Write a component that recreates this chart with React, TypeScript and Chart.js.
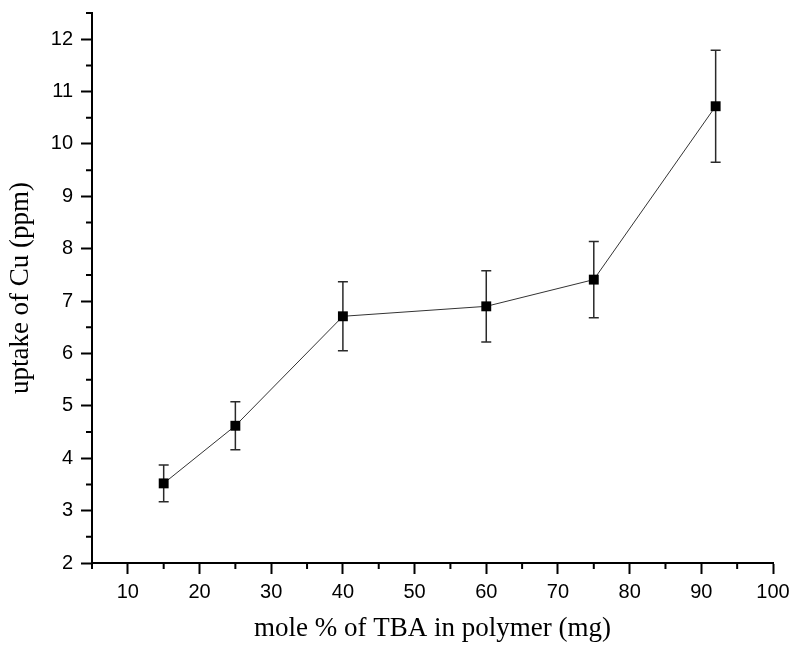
import React, { useEffect, useRef } from 'react';
import { Chart, registerables } from 'chart.js';

Chart.register(...registerables);

// Data
const tbaMolePercent = [15, 25, 40, 60, 75, 92];
const cuUptake = [3.52, 4.62, 6.71, 6.9, 7.41, 10.72];
const cuError = [0.35, 0.46, 0.66, 0.68, 0.73, 1.07];

const xMin = 5;
const xMax = 100;
const xStep = 5;
const xMajorEvery = 10;
const yMin = 2;
const yMax = 12.5;
const yStep = 0.5;

const xTitle = 'mole % of TBA in polymer (mg)';
const yTitle = 'uptake of Cu (ppm)';

const isMajorX = (v: number) => Math.abs(v % xMajorEvery) < 1e-6;
const isMajorY = (v: number) => Math.abs(v - Math.round(v)) < 1e-6;

const errorBarPlugin = {
  id: 'errorBars',
  beforeDatasetsDraw(chart: any) {
    const { ctx, scales } = chart;
    const xs = scales.x;
    const ys = scales.y;
    ctx.save();
    ctx.strokeStyle = '#2a2a2a';
    ctx.lineWidth = 1.5;
    const cap = 5;
    tbaMolePercent.forEach((xv, i) => {
      const x = xs.getPixelForValue(xv);
      const yTop = ys.getPixelForValue(cuUptake[i] + cuError[i]);
      const yBot = ys.getPixelForValue(cuUptake[i] - cuError[i]);
      ctx.beginPath();
      ctx.moveTo(x, yTop);
      ctx.lineTo(x, yBot);
      ctx.moveTo(x - cap, yTop);
      ctx.lineTo(x + cap, yTop);
      ctx.moveTo(x - cap, yBot);
      ctx.lineTo(x + cap, yBot);
      ctx.stroke();
    });
    ctx.restore();
  },
};

const minorTickPlugin = {
  id: 'minorTicks',
  afterDraw(chart: any) {
    const { ctx, scales, chartArea } = chart;
    const len = 6;
    ctx.save();
    ctx.strokeStyle = '#000';
    ctx.lineWidth = 2;
    ctx.beginPath();
    scales.x.ticks.forEach((t: any) => {
      if (isMajorX(t.value)) return;
      const x = scales.x.getPixelForValue(t.value);
      ctx.moveTo(x, chartArea.bottom);
      ctx.lineTo(x, chartArea.bottom + len);
    });
    scales.y.ticks.forEach((t: any) => {
      if (isMajorY(t.value)) return;
      const y = scales.y.getPixelForValue(t.value);
      ctx.moveTo(chartArea.left, y);
      ctx.lineTo(chartArea.left - len, y);
    });
    ctx.stroke();
    ctx.restore();
  },
};

export default function App() {
  const canvasRef = useRef<HTMLCanvasElement | null>(null);

  useEffect(() => {
    document.body.style.margin = '0';
    const canvas = canvasRef.current;
    if (!canvas) return;
    const tickFont = { family: '"Liberation Sans", Arial, sans-serif', size: 20 };
    const titleFont = { family: '"Liberation Serif", "Times New Roman", serif', size: 27 };
    const chart = new Chart(canvas, {
      type: 'line',
      data: {
        datasets: [
          {
            data: tbaMolePercent.map((x, i) => ({ x, y: cuUptake[i] })),
            borderColor: '#333',
            borderWidth: 1,
            backgroundColor: '#000',
            pointStyle: 'rect',
            pointRadius: 7,
            pointBorderWidth: 0,
            pointBackgroundColor: '#000',
            tension: 0,
            fill: false,
          },
        ],
      },
      options: {
        responsive: false,
        animation: false,
        events: [],
        layout: { padding: { top: 13, right: 20, bottom: 0, left: 0 } },
        plugins: {
          legend: { display: false },
          tooltip: { enabled: false },
        },
        scales: {
          x: {
            type: 'linear',
            min: xMin,
            max: xMax,
            afterFit: (s: any) => {
              s.height = 85;
              s.paddingLeft = 0;
              s.paddingRight = 0;
            },
            ticks: {
              stepSize: xStep,
              autoSkip: false,
              maxRotation: 0,
              color: '#000',
              font: tickFont,
              padding: 6,
              callback: (v: any) => (isMajorX(Number(v)) ? String(v) : ''),
            },
            grid: {
              drawOnChartArea: false,
              drawTicks: true,
              tickLength: 11,
              tickWidth: 2,
              tickColor: (c: any) => (c.tick && isMajorX(c.tick.value) ? '#000' : 'rgba(0,0,0,0)'),
            },
            border: { display: true, color: '#000', width: 2 },
            title: {
              display: true,
              text: xTitle,
              color: '#000',
              font: titleFont,
              padding: { top: 0, bottom: 3 },
            },
          },
          y: {
            type: 'linear',
            min: yMin,
            max: yMax,
            afterFit: (s: any) => {
              s.width = 92;
              s.paddingTop = 0;
              s.paddingBottom = 0;
            },
            ticks: {
              stepSize: yStep,
              autoSkip: false,
              color: '#000',
              font: tickFont,
              padding: 8,
              callback: (v: any) => (isMajorY(Number(v)) ? String(v) : ''),
            },
            grid: {
              drawOnChartArea: false,
              drawTicks: true,
              tickLength: 11,
              tickWidth: 2,
              tickColor: (c: any) => (c.tick && isMajorY(c.tick.value) ? '#000' : 'rgba(0,0,0,0)'),
            },
            border: { display: true, color: '#000', width: 2 },
            title: {
              display: true,
              text: yTitle,
              color: '#000',
              font: titleFont,
              padding: { top: 5, bottom: 0 },
            },
          },
        },
      },
      plugins: [errorBarPlugin, minorTickPlugin],
    });
    return () => chart.destroy();
  }, []);

  return <canvas ref={canvasRef} width={793} height={648} style={{ display: 'block' }} />;
}
